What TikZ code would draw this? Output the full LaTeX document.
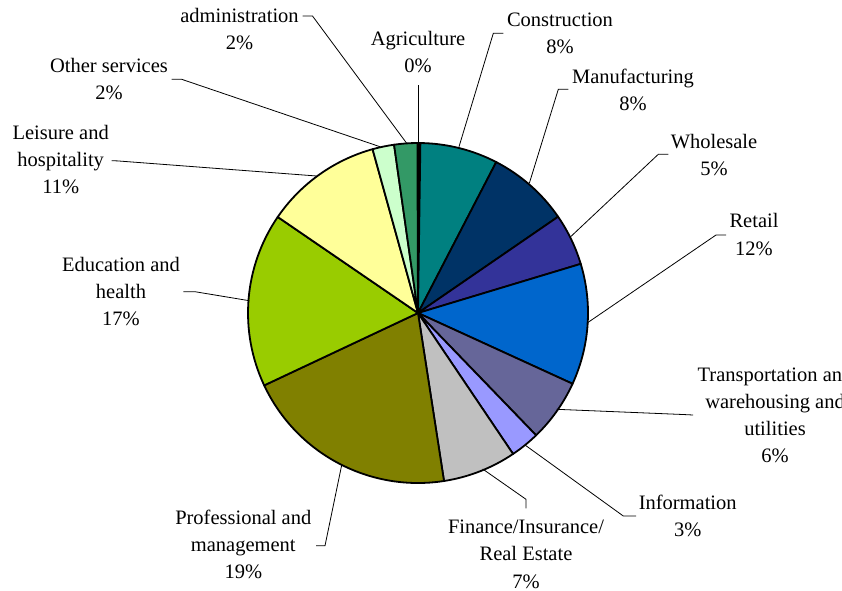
\documentclass[tikz,border=0pt]{standalone}
\usepackage{fontspec}
\setmainfont{Liberation Serif}
\definecolor{cAgr}{HTML}{000000}
\definecolor{cConstr}{HTML}{008080}
\definecolor{cManuf}{HTML}{003366}
\definecolor{cWhole}{HTML}{333399}
\definecolor{cRetail}{HTML}{0066CC}
\definecolor{cTrans}{HTML}{666699}
\definecolor{cInfo}{HTML}{9999FF}
\definecolor{cFin}{HTML}{C0C0C0}
\definecolor{cProf}{HTML}{808000}
\definecolor{cEdu}{HTML}{99CC00}
\definecolor{cLeis}{HTML}{FFFF99}
\definecolor{cOther}{HTML}{CCFFCC}
\definecolor{cAdmin}{HTML}{339966}
\newcommand\pieslice[3]{\filldraw[slicestyle, fill=#3] (0,0) -- (#1:170) arc[start angle=#1, end angle=#2, radius=170] -- cycle;}
\begin{document}
\begin{tikzpicture}[x=1pt,y=-1pt,
  lab/.style={font=\fontsize{20.5}{27.3}\selectfont, align=center, inner sep=0pt},
  slicestyle/.style={draw=black, line width=1.8pt, line join=round},
  leader/.style={draw=black, line width=0.8pt}]
\clip (0,0) rectangle (842,590);
\fill[white] (0,0) rectangle (842,590);
% pie
\begin{scope}[shift={(418,313)}, x=1pt, y=1pt]
\pieslice{90.2}{89.2}{cAgr}
\pieslice{89.2}{62.6}{cConstr}
\pieslice{62.6}{34.5}{cManuf}
\pieslice{34.5}{16.8}{cWhole}
\pieslice{16.8}{-24.6}{cRetail}
\pieslice{-24.6}{-46}{cTrans}
\pieslice{-46}{-56}{cInfo}
\pieslice{-56}{-81.2}{cFin}
\pieslice{-81.2}{-154.8}{cProf}
\pieslice{-154.8}{-214.4}{cEdu}
\pieslice{-214.4}{-254.5}{cLeis}
\pieslice{-254.5}{-261.9}{cOther}
\pieslice{-261.9}{-269.8}{cAdmin}
\end{scope}
% labels
\node[lab] (admin)  at (239.5,30.5) {\strut administration\\\strut 2\%};
\node[lab] (agr)    at (418,53.5)   {\strut Agriculture\\\strut 0\%};
\node[lab] (constr) at (560,34.7)   {\strut Construction\\\strut 8\%};
\node[lab] (manuf)  at (633,91.5)   {\strut Manufacturing\\\strut 8\%};
\node[lab] (whole)  at (714,156.3)  {\strut Wholesale\\\strut 5\%};
\node[lab] (retail) at (754,236)    {\strut Retail\\\strut 12\%};
\node[lab] (trans)  at (775,416.5)  {\strut Transportation and\\\strut warehousing and\\\strut utilities\\\strut 6\%};
\node[lab] (info)   at (687.7,517.3){\strut Information\\\strut 3\%};
\node[lab] (fin)    at (526,555.5)  {\strut Finance/Insurance/\\\strut Real Estate\\\strut 7\%};
\node[lab] (prof)   at (243.3,546.2){\strut Professional and\\\strut management\\\strut 19\%};
\node[lab] (edu)    at (121,293)    {\strut Education and\\\strut health\\\strut 17\%};
\node[lab] (leis)   at (60.7,161)   {\strut Leisure and\\\strut hospitality\\\strut 11\%};
\node[lab] (other)  at (109,80.3)   {\strut Other services\\\strut 2\%};
% leader coordinates
\coordinate (adminA) at (302.5,16);   \coordinate (adminB) at (312.5,16);   \coordinate (adminE) at (406.7,143.3);
\coordinate (agrA)   at (418.3,85);   \coordinate (agrE)   at (418.3,143);
\coordinate (constrA) at (503.3,33.3); \coordinate (constrB) at (493.3,33.3); \coordinate (constrE) at (459,146.7);
\coordinate (manufA) at (568.3,89.3); \coordinate (manufB) at (558.3,89.3); \coordinate (manufE) at (529.3,183.3);
\coordinate (wholeA) at (668.3,154.3); \coordinate (wholeB) at (658.3,154.3); \coordinate (wholeE) at (570,237.3);
\coordinate (retailA) at (726,235);   \coordinate (retailB) at (716,235);   \coordinate (retailE) at (586.7,323.3);
\coordinate (transA) at (693,415);    \coordinate (transB) at (683,414.5);  \coordinate (transE) at (556.7,409.3);
\coordinate (infoA)  at (636,516);    \coordinate (infoB)  at (623.3,516);  \coordinate (infoE)  at (525,445);
\coordinate (finA)   at (526,508.3);  \coordinate (finB)   at (526,499.3);  \coordinate (finE)   at (482.7,469);
\coordinate (profA)  at (316,545.7);  \coordinate (profB)  at (325,545.7);  \coordinate (profE)  at (341.7,465);
\coordinate (eduA)   at (183.3,291.7);\coordinate (eduB)   at (195,291.7);  \coordinate (eduE)   at (249.3,300.7);
\coordinate (leisA)  at (111.7,160.7);\coordinate (leisB)  at (117.5,160.9);\coordinate (leisE)  at (316.7,176);
\coordinate (otherA) at (171.7,79.3); \coordinate (otherB) at (181.7,79.3); \coordinate (otherE) at (380,146.7);
% leaders
\draw[leader] (adminA) -- (adminB) -- (adminE);
\draw[leader] (agrA) -- (agrE);
\draw[leader] (constrA) -- (constrB) -- (constrE);
\draw[leader] (manufA) -- (manufB) -- (manufE);
\draw[leader] (wholeA) -- (wholeB) -- (wholeE);
\draw[leader] (retailA) -- (retailB) -- (retailE);
\draw[leader] (transA) -- (transB) -- (transE);
\draw[leader] (infoA) -- (infoB) -- (infoE);
\draw[leader] (finA) -- (finB) -- (finE);
\draw[leader] (profA) -- (profB) -- (profE);
\draw[leader] (eduA) -- (eduB) -- (eduE);
\draw[leader] (leisA) -- (leisB) -- (leisE);
\draw[leader] (otherA) -- (otherB) -- (otherE);
\end{tikzpicture}
\end{document}
